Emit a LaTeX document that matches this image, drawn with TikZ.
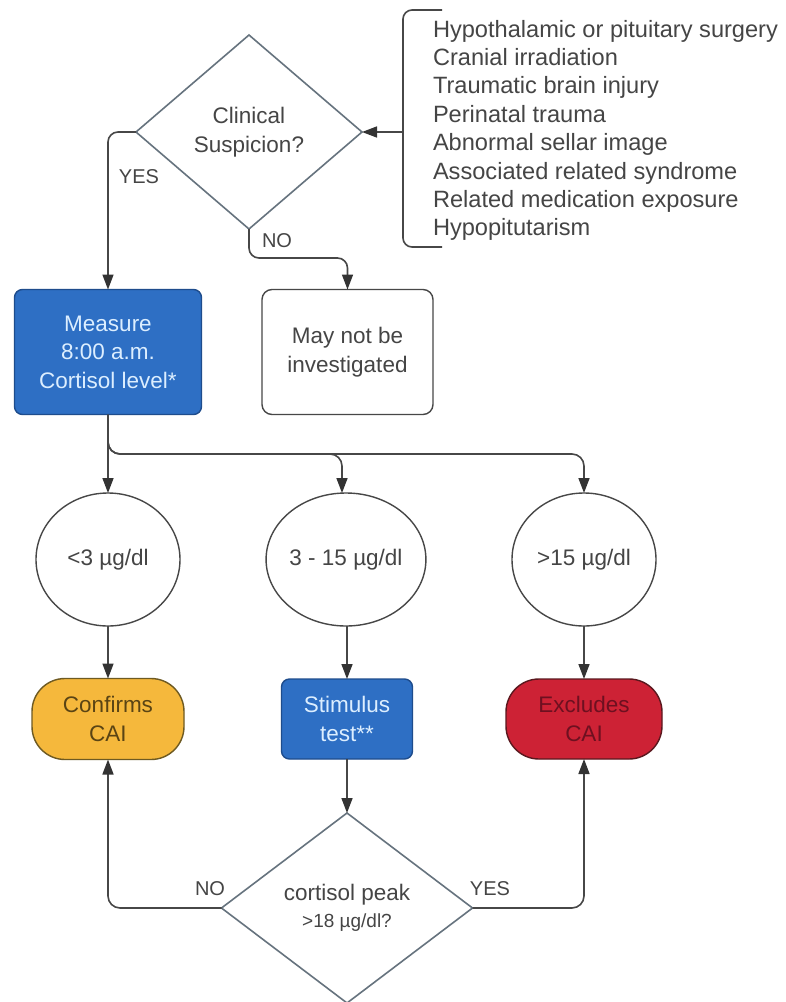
\documentclass[tikz,border=0pt]{standalone}
\usepackage{fontspec}
\setmainfont{Liberation Sans}
\usetikzlibrary{shapes.geometric,arrows.meta}
\definecolor{txt}{HTML}{454545}
\definecolor{linec}{HTML}{474747}
\definecolor{arrc}{HTML}{333333}
\definecolor{diac}{HTML}{66737E}
\definecolor{bluef}{HTML}{2E6FC4}
\definecolor{blued}{HTML}{1E4C8C}
\definecolor{bluet}{HTML}{DCEEFF}
\definecolor{yelf}{HTML}{F5B83C}
\definecolor{yeld}{HTML}{6E5A22}
\definecolor{yelt}{HTML}{5A4414}
\definecolor{redf}{HTML}{CD2235}
\definecolor{redd}{HTML}{5A181E}
\definecolor{redt}{HTML}{6E1020}
\begin{document}
\begin{tikzpicture}[x=1pt,y=-1pt,
  every node/.style={inner sep=0pt, outer sep=0pt, text=txt, align=center},
  nodefont/.style={font=\fontsize{22.5}{28.5}\selectfont},
  dia/.style={diamond, draw=diac, line width=1.6pt, fill=white, nodefont},
  circ/.style={ellipse, draw=linec, line width=1.4pt, fill=white, minimum width=144pt, minimum height=133pt, nodefont},
  bluebox/.style={rectangle, rounded corners=8pt, draw=blued, line width=1.4pt, fill=bluef, text=bluet, nodefont},
  plainbox/.style={rectangle, rounded corners=10pt, draw=linec, line width=1.4pt, fill=white, nodefont},
  stadium/.style={rectangle, rounded corners=33pt, line width=1.4pt, nodefont},
  conn/.style={draw=linec, line width=1.6pt, -{Triangle[length=15pt,width=11pt,color=arrc]}},
  lbl/.style={font=\fontsize{20}{24}\selectfont}
]
\useasboundingbox[fill=white] (0,0) rectangle (786,1002);

% nodes
\node[dia, minimum width=226pt, minimum height=194pt] (cs) at (249,132) {Clinical\\Suspicion?};
\node[anchor=north west, align=left, font=\fontsize{23.6}{28.4}\selectfont, text=txt] (risk) at (433,20)
  {Hypothalamic or pituitary surgery\\Cranial irradiation\\Traumatic brain injury\\Perinatal trauma\\Abnormal sellar image\\Associated related syndrome\\Related medication exposure\\Hypopitutarism};
\coordinate (brk) at (403,132);

\node[bluebox, minimum width=187pt, minimum height=125pt] (meas) at (108,352) {Measure\\8:00 a.m.\\Cortisol level*};
\node[plainbox, minimum width=171pt, minimum height=125pt] (may) at (347.5,352) {May not be\\investigated};

\node[circ] (c1) at (108,559.5) {<3 µg/dl};
\node[circ] (c2) at (346,559.5) {3 - 15 µg/dl};
\node[circ] (c3) at (584,559.5) {>15 µg/dl};

\node[stadium, draw=yeld, fill=yelf, text=yelt, minimum width=152pt, minimum height=81pt] (conf) at (108,719) {Confirms\\CAI};
\node[bluebox, minimum width=131pt, minimum height=80pt] (stim) at (347,719) {Stimulus\\test**};
\node[stadium, draw=redd, fill=redf, text=redt, minimum width=156pt, minimum height=80pt] (excl) at (584,719) {Excludes\\CAI};

\node[dia, minimum width=251pt, minimum height=190pt] (d2) at (347,908)
  {cortisol peak\\[-2pt]{\fontsize{19}{22}\selectfont >18 µg/dl?}};

% bracket
\draw[draw=linec, line width=1.6pt, rounded corners=9pt] (442,10) -- (403,10) -- (403,247) -- (442,247);
\draw[conn] (brk) -- (cs.east);

% connectors
\draw[conn, rounded corners=10pt] (cs.west) -| (meas.north);
\draw[conn, rounded corners=10pt] (cs.south) -- ++(0,29) -| (may.north);
\node[lbl] (yes1) at (139,177) {YES};
\node[lbl] (no1) at (277,241) {NO};

\draw[conn] (meas.south) -- (c1.north);
\draw[conn, rounded corners=12pt] (meas.south) -- ++(0,39.5) -| ([xshift=-4pt]c2.north);
\draw[conn, rounded corners=12pt] (meas.south) -- ++(0,39.5) -| (c3.north);

\draw[conn] (c1.south) -- (conf.north);
\draw[conn] ([xshift=1pt]c2.south) -- (stim.north);
\draw[conn] (c3.south) -- (excl.north);
\draw[conn] (stim.south) -- (d2.north);

\draw[conn, rounded corners=12pt] (d2.west) -| (conf.south);
\draw[conn, rounded corners=12pt] (d2.east) -| (excl.south);
\node[lbl] (no2) at (210,889) {NO};
\node[lbl] (yes2) at (490,889) {YES};
\end{tikzpicture}
\end{document}
